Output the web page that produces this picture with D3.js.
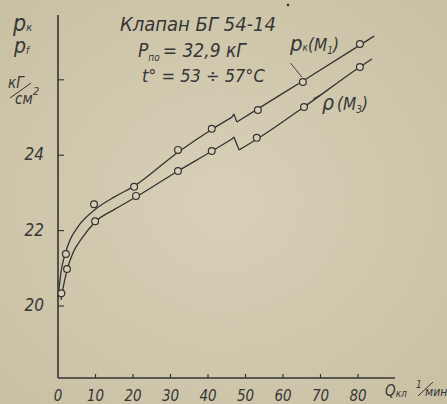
<!DOCTYPE html>
<html>
<head>
<meta charset="utf-8">
<script src="https://cdn.jsdelivr.net/npm/d3@7"></script>
<style>
  html, body { margin: 0; padding: 0; background: #d2cab0; }
  svg { display: block; }
  text { font-family: "Liberation Sans Narrow", "DejaVu Sans Condensed", sans-serif; font-style: italic; fill: #363636; }
</style>
</head>
<body>
<svg id="chart" width="447" height="404"></svg>
<script>
// measured points, Q (l/min) vs pressure (kG/cm2)
const kQ = [2.1, 9.6, 20.3, 32, 41, 53.3, 65.3, 80.5];
const kP = [21.38, 22.70, 23.16, 24.14, 24.70, 25.20, 25.94, 26.95];
const fQ = [0.9, 2.4, 9.9, 20.8, 32, 41, 53, 65.6, 80.5];
const fP = [20.34, 20.98, 22.25, 22.92, 23.58, 24.11, 24.46, 25.28, 26.34];

// hand-drawn fitted curves (before and after the break)
const kCurveA = [[0, 20.21], [0.8, 20.90], [1.9, 21.38], [3.2, 21.75], [5.3, 22.10], [9.9, 22.56], [15.2, 22.90], [20.3, 23.18], [32, 24.08], [41.1, 24.69], [46.4, 25.01]];
const kBreak = [46.9, 25.09];
const kCurveB = [[47.7, 24.88], [53.3, 25.23], [65.3, 25.97], [80.5, 26.92], [84.3, 27.16]];
const fCurveA = [[0.8, 20.16], [1.1, 20.34], [2.4, 20.95], [4.0, 21.41], [6.4, 21.80], [9.9, 22.23], [15.2, 22.57], [20.8, 22.89], [32, 23.58], [41.1, 24.11], [46.4, 24.43]];
const fBreak = [46.9, 24.48];
const fCurveB = [[48.3, 24.14], [53.1, 24.43], [65.6, 25.28], [80.5, 26.34], [83.7, 26.55]];

const xTicks = [10, 20, 30, 40, 50, 60, 70, 80];
const xTickLabels = ['0', '10', '20', '30', '40', '50', '60', '70', '80'];
const yTicks = [20, 22, 24, 26];
const yTickLabels = ['20', '22', '24'];

const ink = '#333';
const svg = d3.select('#chart');

// paper
let defs = svg.append('defs');
let grad = defs.append('radialGradient').attr('id', 'paper')
    .attr('cx', '50%').attr('cy', '50%').attr('r', '75%');
grad.append('stop').attr('offset', '0%').attr('stop-color', '#d9d2b9');
grad.append('stop').attr('offset', '100%').attr('stop-color', '#c9c0a3');
let noise = defs.append('filter').attr('id', 'grain');
noise.append('feTurbulence').attr('type', 'fractalNoise').attr('baseFrequency', 0.8).attr('numOctaves', 2).attr('seed', 3);
noise.append('feColorMatrix').attr('values', '0 0 0 0 0.5  0 0 0 0 0.42  0 0 0 0 0.3  0 0 0 0.1 0');
svg.append('rect').attr('width', 447).attr('height', 404).attr('fill', 'url(#paper)');
svg.append('rect').attr('width', 447).attr('height', 404).attr('filter', 'url(#grain)');

const x = d3.scaleLinear().domain([0, 80]).range([58, 358]);
const y = d3.scaleLinear().domain([20, 26]).range([306, 79.8]);

const g = svg.append('g');

// axes
g.append('line').attr('x1', x(0)).attr('x2', x(0)).attr('y1', 378).attr('y2', 15)
    .attr('stroke', ink).attr('stroke-width', 1.6);
g.append('line').attr('x1', x(0)).attr('x2', 395).attr('y1', 378).attr('y2', 378)
    .attr('stroke', ink).attr('stroke-width', 1.6);

g.selectAll('.xtick').data(xTicks).enter().append('line')
    .attr('x1', d => x(d)).attr('x2', d => x(d)).attr('y1', 378).attr('y2', 374)
    .attr('stroke', ink).attr('stroke-width', 1.2);
g.selectAll('.xlab').data(xTickLabels).enter().append('text')
    .attr('x', d => x(+d)).attr('y', 401)
    .attr('text-anchor', 'middle').style('font-size', '15px')
    .text(d => d);

g.selectAll('.ytick').data(yTicks).enter().append('line')
    .attr('x1', x(0)).attr('x2', x(0) + 6).attr('y1', d => y(d)).attr('y2', d => y(d))
    .attr('stroke', ink).attr('stroke-width', 1.1);
g.selectAll('.ylab').data(yTickLabels).enter().append('text')
    .attr('x', 44).attr('y', d => y(+d) + 5)
    .attr('text-anchor', 'end').style('font-size', '17px')
    .text(d => d);

// curves
const smooth = d3.line().x(d => x(d[0])).y(d => y(d[1])).curve(d3.curveMonotoneX);
const straight = d3.line().x(d => x(d[0])).y(d => y(d[1]));

function drawCurve(partA, brk, partB) {
    g.append('path').attr('d', smooth(partA));
    g.append('path').attr('d', straight([partA[partA.length - 1], brk, partB[0]]));
    g.append('path').attr('d', smooth(partB));
}
drawCurve(kCurveA, kBreak, kCurveB);
drawCurve(fCurveA, fBreak, fCurveB);
g.selectAll('path').attr('fill', 'none').attr('stroke', ink).attr('stroke-width', 1.3)
    .attr('stroke-linejoin', 'round');

function drawPoints(qs, ps) {
    g.selectAll(null).data(qs).enter().append('circle')
        .attr('cx', (d, i) => x(d)).attr('cy', (d, i) => y(ps[i]))
        .attr('r', 3.4).attr('fill', '#d6cfb5').attr('stroke', ink).attr('stroke-width', 1.2);
}
drawPoints(kQ, kP);
drawPoints(fQ, fP);

// texts
svg.append('text').attr('x', 120).attr('y', 31).attr('textLength', 156)
    .style('font-size', '20px').text('Клапан БГ 54-14');

let t1 = svg.append('text').attr('x', 138).attr('y', 57).style('font-size', '19px');
t1.append('tspan').text('P');
t1.append('tspan').attr('dy', 4).style('font-size', '10px').text('по');
t1.append('tspan').attr('dy', -4).attr('dx', 3).text('= 32,9 кГ');

svg.append('text').attr('x', 142).attr('y', 82).style('font-size', '18px')
    .text('t° = 53 ÷ 57°C');

// y label
let yl1 = svg.append('text').attr('x', 13).attr('y', 31).style('font-size', '23px');
yl1.append('tspan').text('p');
yl1.append('tspan').attr('dy', 0).style('font-size', '11px').text('к');
let yl2 = svg.append('text').attr('x', 14).attr('y', 53).style('font-size', '21px');
yl2.append('tspan').text('p');
yl2.append('tspan').attr('dy', 1).style('font-size', '10px').text('f');
svg.append('text').attr('x', 8).attr('y', 88).style('font-size', '15px').text('кГ');
svg.append('text').attr('x', 33).attr('y', 95).style('font-size', '11px').text('2');
svg.append('text').attr('x', 15).attr('y', 104).style('font-size', '15px').text('см');
svg.append('line').attr('x1', 10).attr('y1', 98).attr('x2', 31).attr('y2', 83)
    .attr('stroke', ink).attr('stroke-width', 1);

// x label
let xl = svg.append('text').attr('x', 385).attr('y', 396).style('font-size', '15px');
xl.append('tspan').text('Q');
xl.append('tspan').attr('dy', 1).style('font-size', '10px').text('кл');
svg.append('text').attr('x', 416).attr('y', 388).style('font-size', '10px').text('1');
svg.append('line').attr('x1', 418).attr('y1', 396).attr('x2', 433).attr('y2', 382)
    .attr('stroke', ink).attr('stroke-width', 1);
svg.append('text').attr('x', 425).attr('y', 396).style('font-size', '12px').text('мин');

// curve labels
let lk = svg.append('text').attr('x', 290).attr('y', 51).style('font-size', '17px');
lk.append('tspan').style('font-size', '22px').text('p');
lk.append('tspan').attr('dy', 0).style('font-size', '10px').text('к');
lk.append('tspan').attr('dy', 0).text('(M');
lk.append('tspan').attr('dy', 3).style('font-size', '10px').text('1');
lk.append('tspan').attr('dy', -3).text(')');
svg.append('line').attr('x1', x(62)).attr('y1', 63).attr('x2', x(65)).attr('y2', 77)
    .attr('stroke', ink).attr('stroke-width', 0.9);

let lf = svg.append('text').attr('x', 322).attr('y', 110).style('font-size', '17px');
lf.append('tspan').style('font-size', '21px').text('ρ');
lf.append('tspan').attr('dx', 3).text('(M');
lf.append('tspan').attr('dy', 3).style('font-size', '10px').text('3');
lf.append('tspan').attr('dy', -3).text(')');
svg.append('line').attr('x1', 313).attr('y1', 99).attr('x2', 320).attr('y2', 95)
    .attr('stroke', ink).attr('stroke-width', 0.9);

svg.append('circle').attr('cx', 288).attr('cy', 5).attr('r', 1.3).attr('fill', ink);
</script>
</body>
</html>
